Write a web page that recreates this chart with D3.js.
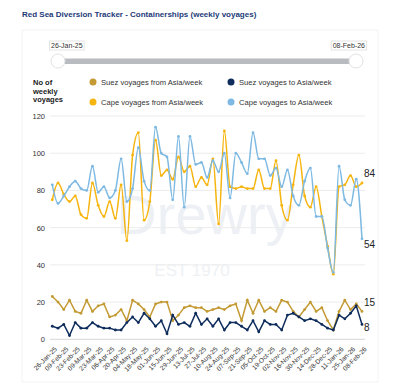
<!DOCTYPE html>
<html>
<head>
<meta charset="utf-8">
<script src="https://cdn.jsdelivr.net/npm/d3@7"></script>
<style>
  body { margin: 0; background: #fff; }
  text { font-family: "Liberation Sans", Arial, sans-serif; }
</style>
</head>
<body>
<div id="chart"></div>
<script>
// weekly categories
var weeks = ["26-Jan-25","02-Feb-25","09-Feb-25","16-Feb-25","23-Feb-25","02-Mar-25","09-Mar-25","16-Mar-25","23-Mar-25","30-Mar-25",
  "06-Apr-25","13-Apr-25","20-Apr-25","27-Apr-25","04-May-25","11-May-25","18-May-25","25-May-25","01-Jun-25","08-Jun-25",
  "15-Jun-25","22-Jun-25","29-Jun-25","06-Jul-25","13-Jul-25","20-Jul-25","27-Jul-25","03-Aug-25","10-Aug-25","17-Aug-25",
  "24-Aug-25","31-Aug-25","07-Sep-25","14-Sep-25","21-Sep-25","28-Sep-25","05-Oct-25","12-Oct-25","19-Oct-25","26-Oct-25",
  "02-Nov-25","09-Nov-25","16-Nov-25","23-Nov-25","30-Nov-25","07-Dec-25","14-Dec-25","21-Dec-25","28-Dec-25","04-Jan-26",
  "11-Jan-26","18-Jan-26","25-Jan-26","01-Feb-26","08-Feb-26"];

var suezFrom = [23,20,16,21,15,14,21,15,18,19,12,13,16,10,21,19,16,12,19,20,20,10,13,17,18,17,17,15,16,17,
  16,18,19,10,21,14,21,15,17,15,21,20,15,12,16,20,15,17,10,5,15,21,16,19,15];
var suezTo = [7,6,8,2,9,6,6,9,7,6,6,5,5,9,12,9,14,11,7,10,3,13,8,9,7,14,8,11,7,11,
  5,9,9,7,5,10,4,10,8,8,5,13,14,12,10,11,10,8,6,5,13,11,14,18,8];
var capeFrom = [75,84,78,74,77,67,65,84,72,66,74,65,83,53,99,111,64,74,107,88,91,86,98,90,93,82,87,83,97,62,
  112,82,81,82,81,81,91,81,81,96,72,64,83,99,77,71,82,66,50,35,82,83,88,82,84];
var capeTo = [83,73,77,82,85,81,80,93,79,82,76,80,97,74,81,103,85,80,114,100,98,75,109,71,109,94,95,87,96,90,
  100,76,100,95,89,111,97,97,88,92,82,91,77,72,85,92,66,66,49,36,93,75,72,86,54];

var yTicks = [0, 20, 40, 60, 80, 100, 120];

var series = [
  { name: "Suez voyages from Asia/week", values: suezFrom, color: "#c39a33", smooth: false },
  { name: "Suez voyages to Asia/week", values: suezTo, color: "#0f2d5c", smooth: false },
  { name: "Cape voyages from Asia/week", values: capeFrom, color: "#f6b40e", smooth: true },
  { name: "Cape voyages to Asia/week", values: capeTo, color: "#7db9e2", smooth: true }
];

var svgWidth = 400;
var svgHeight = 384;

var svg = d3.select("#chart")
  .append("svg")
  .attr("width", svgWidth)
  .attr("height", svgHeight);

// title
svg.append("text")
  .attr("x", 22)
  .attr("y", 17)
  .attr("fill", "#1d3b78")
  .attr("font-size", 8)
  .attr("font-weight", "bold")
  .text("Red Sea Diversion Tracker - Containerships (weekly voyages)");

// panel
svg.append("rect")
  .attr("x", 22).attr("y", 30)
  .attr("width", 356).attr("height", 352)
  .attr("fill", "none")
  .attr("stroke", "#f4f4f4");

// range slider
svg.append("rect")
  .attr("x", 58).attr("y", 58.5)
  .attr("width", 298).attr("height", 5.5)
  .attr("fill", "#b8bcc1");

[[51, "26-Jan-25", "start"], [365, "08-Feb-26", "end"]].forEach(function (d) {
  var t = svg.append("text")
    .attr("x", d[0]).attr("y", 48)
    .attr("font-size", 7)
    .attr("fill", "#333")
    .attr("text-anchor", d[2])
    .text(d[1]);
  var bb = t.node().getBBox();
  svg.insert("rect", "text:last-of-type")
    .attr("x", bb.x - 1.5).attr("y", bb.y - 1)
    .attr("width", bb.width + 3).attr("height", bb.height + 2)
    .attr("fill", "#fff")
    .attr("stroke", "#e4e4e4");
});

[58, 356].forEach(function (cx) {
  svg.append("circle")
    .attr("cx", cx).attr("cy", 61).attr("r", 7)
    .attr("fill", "#fff")
    .attr("stroke", "#e2e2e2");
});

// scales
var xScale = d3.scalePoint()
  .domain(weeks)
  .range([52.3, 362]);

var yScale = d3.scaleLinear()
  .domain([0, 120])
  .range([339.3, 116]);

// watermark
svg.append("text")
  .attr("x", 205).attr("y", 234)
  .attr("text-anchor", "middle")
  .attr("font-size", 56)
  .attr("fill", "#edf0f4")
  .text("Drewry");
svg.append("text")
  .attr("x", 192).attr("y", 276)
  .attr("text-anchor", "middle")
  .attr("font-size", 17)
  .attr("fill", "#eef1f4")
  .text("EST 1970");

// gridlines + y axis labels
var yAxis = d3.axisLeft(yScale)
  .tickValues(yTicks)
  .tickSize(0)
  .tickPadding(5);

var yG = svg.append("g")
  .attr("transform", "translate(50,0)")
  .call(yAxis);
yG.select(".domain").remove();
yG.selectAll("text")
  .attr("font-size", 7.5)
  .attr("fill", "#333")
  .style("font-family", "Liberation Sans, Arial, sans-serif");

svg.append("g").selectAll("line")
  .data(yTicks)
  .enter()
  .append("line")
  .attr("x1", 50).attr("x2", 365)
  .attr("y1", function (d) { return yScale(d); })
  .attr("y2", function (d) { return yScale(d); })
  .attr("stroke", function (d) { return d === 0 ? "#d8d8d8" : "#ececec"; })
  .attr("stroke-width", 1);

// x axis labels (every 2nd week)
var xAxis = d3.axisBottom(xScale)
  .tickValues(weeks.filter(function (d, i) { return i % 2 === 0; }))
  .tickSize(0)
  .tickPadding(0);

var xG = svg.append("g")
  .attr("transform", "translate(0,344)")
  .call(xAxis);
xG.select(".domain").remove();
xG.selectAll("text")
  .attr("font-size", 6.6)
  .attr("fill", "#333")
  .attr("text-anchor", "end")
  .attr("dy", "0.35em")
  .attr("transform", "translate(3,4) rotate(-45)")
  .style("font-family", "Liberation Sans, Arial, sans-serif");

// lines
series.forEach(function (s) {
  var line = d3.line()
    .x(function (d, i) { return xScale(weeks[i]); })
    .y(function (d) { return yScale(d); })
    .curve(s.smooth ? d3.curveMonotoneX : d3.curveLinear);

  var g = svg.append("g");
  g.append("path")
    .datum(s.values)
    .attr("d", line)
    .attr("fill", "none")
    .attr("stroke", s.color)
    .attr("stroke-width", 1.5);

  g.selectAll("circle")
    .data(s.values)
    .enter()
    .append("circle")
    .attr("cx", function (d, i) { return xScale(weeks[i]); })
    .attr("cy", function (d) { return yScale(d); })
    .attr("r", 1.4)
    .attr("fill", s.color);

  // end label
  var last = s.values[s.values.length - 1];
  var off = { "Suez voyages from Asia/week": -5, "Suez voyages to Asia/week": 7,
    "Cape voyages from Asia/week": -6, "Cape voyages to Asia/week": 9 }[s.name];
  svg.append("text")
    .attr("x", 364)
    .attr("y", yScale(last) + off)
    .attr("font-size", 10)
    .attr("fill", "#222")
    .text(last);
});

// axis title
var yTitle = svg.append("text")
  .attr("x", 33).attr("y", 85)
  .attr("font-size", 7.5)
  .attr("font-weight", "bold")
  .attr("fill", "#222");
["No of", "weekly", "voyages"].forEach(function (t, i) {
  yTitle.append("tspan").attr("x", 33).attr("dy", i === 0 ? 0 : 8.5).text(t);
});

// legend
var legendPos = [[93, 82], [231, 82], [93, 102], [231, 102]];
series.forEach(function (s, i) {
  var p = legendPos[i];
  svg.append("circle")
    .attr("cx", p[0]).attr("cy", p[1]).attr("r", 3.5)
    .attr("fill", s.color);
  svg.append("text")
    .attr("x", p[0] + 8).attr("y", p[1] + 2.6)
    .attr("font-size", 7.6)
    .attr("fill", "#333")
    .text(s.name);
});
</script>
</body>
</html>
